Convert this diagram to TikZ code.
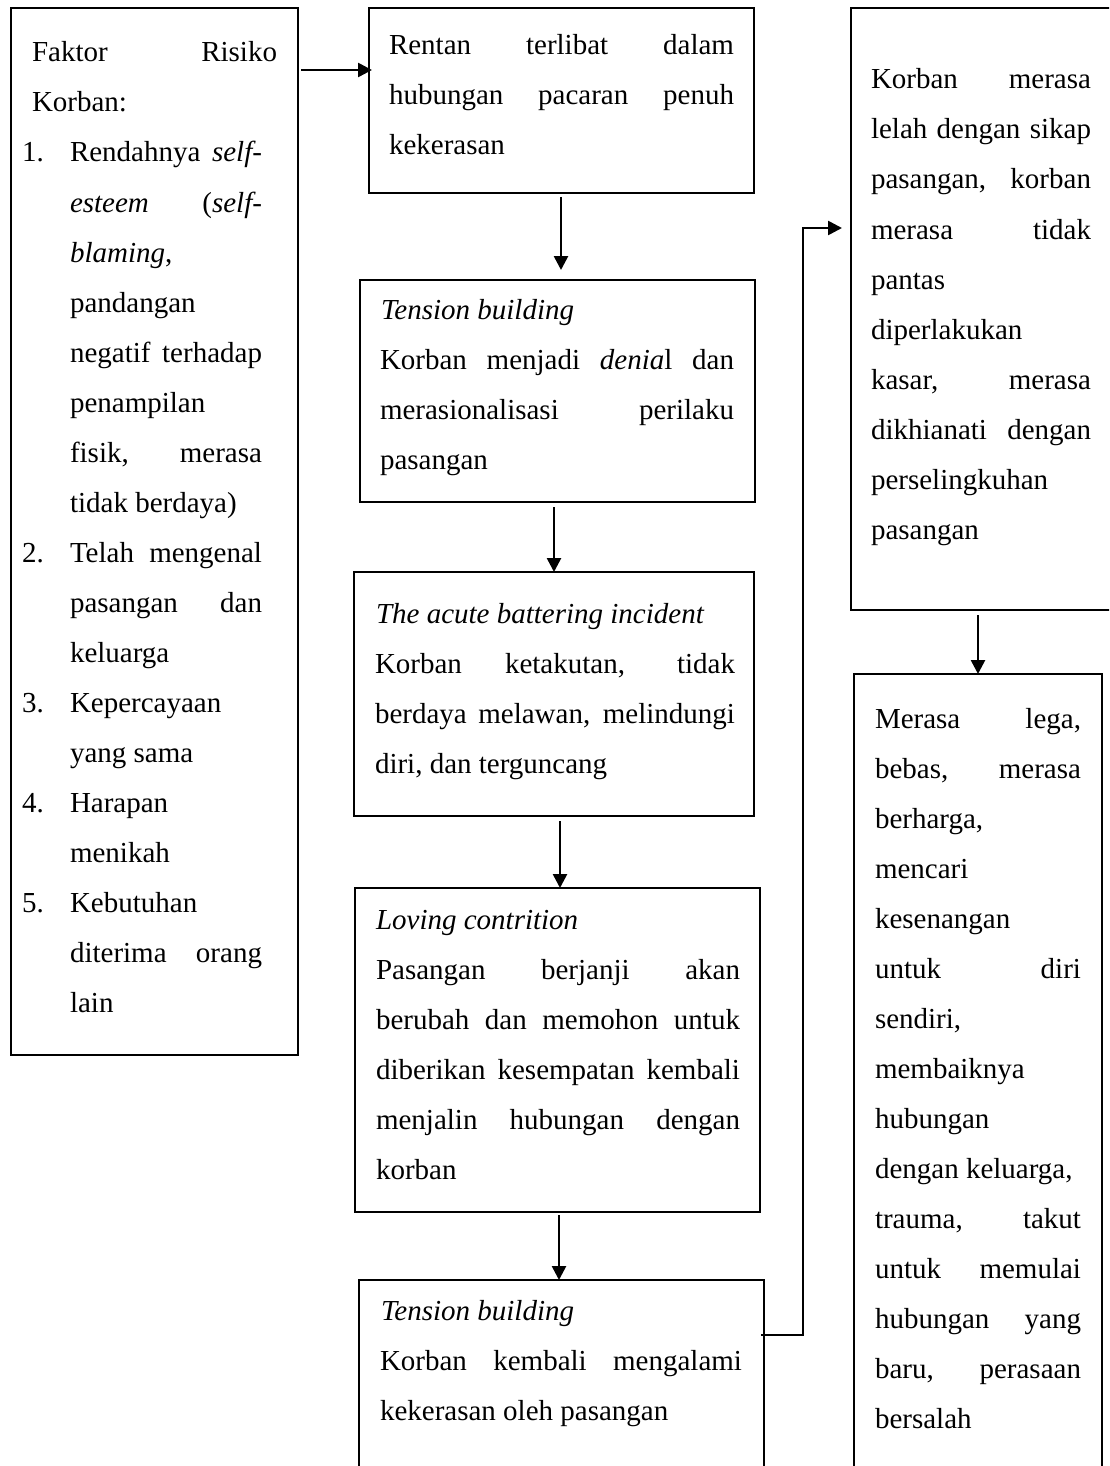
\documentclass[tikz,border=0pt]{standalone}
\usepackage{fontspec}
\setmainfont{Liberation Serif}
\usetikzlibrary{arrows.meta,calc}
\newcommand\fs{\fontsize{29}{50}\selectfont}
\begin{document}
\begin{tikzpicture}[x=1pt,y=-1pt,
  box/.style={draw, line width=2.8pt, anchor=north west, inner sep=0pt, outer sep=0pt},
  t/.style={anchor=base west, inner sep=0pt, outer sep=0pt, font=\fs},
  arr/.style={line width=2.6pt, -{Triangle[length=14pt,width=14pt]}}]
\useasboundingbox (0,0) rectangle (1109,1466);
\clip (0,0) rectangle (1109,1466);
% boxes
\node[box, minimum width=287pt, minimum height=1047pt] (lb) at (11,8) {};
\node[box, minimum width=385pt, minimum height=185pt] (b1) at (369,8) {};
\node[box, minimum width=395pt, minimum height=222pt] (b2) at (360,280) {};
\node[box, minimum width=400pt, minimum height=244pt] (b3) at (354,572) {};
\node[box, minimum width=405pt, minimum height=324pt] (b4) at (355,888) {};
\node[box, minimum width=405pt, minimum height=250pt] (b5) at (359,1280) {};
\node[box, minimum width=300pt, minimum height=602pt] (rt) at (851,8) {};
\node[box, minimum width=248pt, minimum height=850pt] (rb) at (854,674) {};
% left box text
\node[t] (l1) at (32,62) {\makebox[245pt][s]{Faktor Risiko}};
\node[t] (l2) at (32,112) {Korban:};
\node[t] (n1) at (22,162) {1.};
\node[t] (l3) at (70,162) {\makebox[192pt][s]{Rendahnya \textit{self-}}};
\node[t] (l4) at (70,212) {\makebox[192pt][s]{\textit{esteem} (\textit{self-}}};
\node[t] (l5) at (70,262) {\textit{blaming},};
\node[t] (l6) at (70,312) {pandangan};
\node[t] (l7) at (70,362) {\makebox[192pt][s]{negatif terhadap}};
\node[t] (l8) at (70,412) {penampilan};
\node[t] (l9) at (70,462) {\makebox[192pt][s]{fisik, merasa}};
\node[t] (l10) at (70,512) {tidak berdaya)};
\node[t] (n2) at (22,562) {2.};
\node[t] (l11) at (70,562) {\makebox[192pt][s]{Telah mengenal}};
\node[t] (l12) at (70,612) {\makebox[192pt][s]{pasangan dan}};
\node[t] (l13) at (70,662) {keluarga};
\node[t] (n3) at (22,712) {3.};
\node[t] (l14) at (70,712) {Kepercayaan};
\node[t] (l15) at (70,762) {yang sama};
\node[t] (n4) at (22,812) {4.};
\node[t] (l16) at (70,812) {Harapan};
\node[t] (l17) at (70,862) {menikah};
\node[t] (n5) at (22,912) {5.};
\node[t] (l18) at (70,912) {Kebutuhan};
\node[t] (l19) at (70,962) {\makebox[192pt][s]{diterima orang}};
\node[t] (l20) at (70,1012) {lain};
% box 1
\node[t] (a1) at (389,55) {\makebox[345pt][s]{Rentan terlibat dalam}};
\node[t] (a2) at (389,105) {\makebox[345pt][s]{hubungan pacaran penuh}};
\node[t] (a3) at (389,155) {kekerasan};
% box 2
\node[t] (c0) at (381,319) {\textit{Tension building}};
\node[t] (c1) at (380,369) {\makebox[354pt][s]{Korban menjadi \textit{denia}l dan}};
\node[t] (c2) at (380,419) {\makebox[354pt][s]{merasionalisasi perilaku}};
\node[t] (c3) at (380,469) {pasangan};
% box 3
\node[t] (d0) at (376,623) {\textit{The acute battering incident}};
\node[t] (d1) at (375,673) {\makebox[360pt][s]{Korban ketakutan, tidak}};
\node[t] (d2) at (375,723) {\makebox[360pt][s]{berdaya melawan, melindungi}};
\node[t] (d3) at (375,773) {diri, dan terguncang};
% box 4
\node[t] (e0) at (376,929) {\textit{Loving contrition}};
\node[t] (e1) at (376,979) {\makebox[364pt][s]{Pasangan berjanji akan}};
\node[t] (e2) at (376,1029) {\makebox[364pt][s]{berubah dan memohon untuk}};
\node[t] (e3) at (376,1079) {\makebox[364pt][s]{diberikan kesempatan kembali}};
\node[t] (e4) at (376,1129) {\makebox[364pt][s]{menjalin hubungan dengan}};
\node[t] (e5) at (376,1179) {korban};
% box 5
\node[t] (f0) at (381,1320) {\textit{Tension building}};
\node[t] (f1) at (380,1370) {\makebox[362pt][s]{Korban kembali mengalami}};
\node[t] (f2) at (380,1420) {kekerasan oleh pasangan};
% right top
\node[t] (g1) at (871,89) {\makebox[220pt][s]{Korban merasa}};
\node[t] (g2) at (871,139) {\makebox[220pt][s]{lelah dengan sikap}};
\node[t] (g3) at (871,189) {\makebox[220pt][s]{pasangan, korban}};
\node[t] (g4) at (871,239) {\makebox[220pt][s]{merasa tidak}};
\node[t] (g5) at (871,289) {pantas};
\node[t] (g6) at (871,339) {diperlakukan};
\node[t] (g7) at (871,389) {\makebox[220pt][s]{kasar, merasa}};
\node[t] (g8) at (871,439) {\makebox[220pt][s]{dikhianati dengan}};
\node[t] (g9) at (871,489) {perselingkuhan};
\node[t] (g10) at (871,539) {pasangan};
% right bottom
\node[t] (h1) at (875,728) {\makebox[206pt][s]{Merasa lega,}};
\node[t] (h2) at (875,778) {\makebox[206pt][s]{bebas, merasa}};
\node[t] (h3) at (875,828) {berharga,};
\node[t] (h4) at (875,878) {mencari};
\node[t] (h5) at (875,928) {kesenangan};
\node[t] (h6) at (875,978) {\makebox[206pt][s]{untuk diri}};
\node[t] (h7) at (875,1028) {sendiri,};
\node[t] (h8) at (875,1078) {membaiknya};
\node[t] (h9) at (875,1128) {hubungan};
\node[t] (h10) at (875,1178) {dengan keluarga,};
\node[t] (h11) at (875,1228) {\makebox[206pt][s]{trauma, takut}};
\node[t] (h12) at (875,1278) {\makebox[206pt][s]{untuk memulai}};
\node[t] (h13) at (875,1328) {\makebox[206pt][s]{hubungan yang}};
\node[t] (h14) at (875,1378) {\makebox[206pt][s]{baru, perasaan}};
\node[t] (h15) at (875,1428) {bersalah};
% connectors
\draw[arr] ($(lb.north east)+(3,62)$) -- ($(b1.north west)+(3,62)$);
\draw[arr] ($(b1.south west)+(192,4)$) -- ($(b2.north west)+(201,-10)$);
\draw[arr] ($(b2.south west)+(194,5)$) -- ($(b3.north west)+(200,0)$);
\draw[arr] ($(b3.south west)+(206,5)$) -- ($(b4.north west)+(205,0)$);
\draw[arr] ($(b4.south west)+(204,3)$) -- ($(b5.north west)+(200,0)$);
\draw[arr] ($(b5.north east)+(-3,55)$) -- ++(42,0) |- ($(rt.north west)+(-9,220)$);
\draw[arr] ($(rt.south west)+(127,5)$) -- ($(rb.north west)+(124,0)$);
\end{tikzpicture}
\end{document}
